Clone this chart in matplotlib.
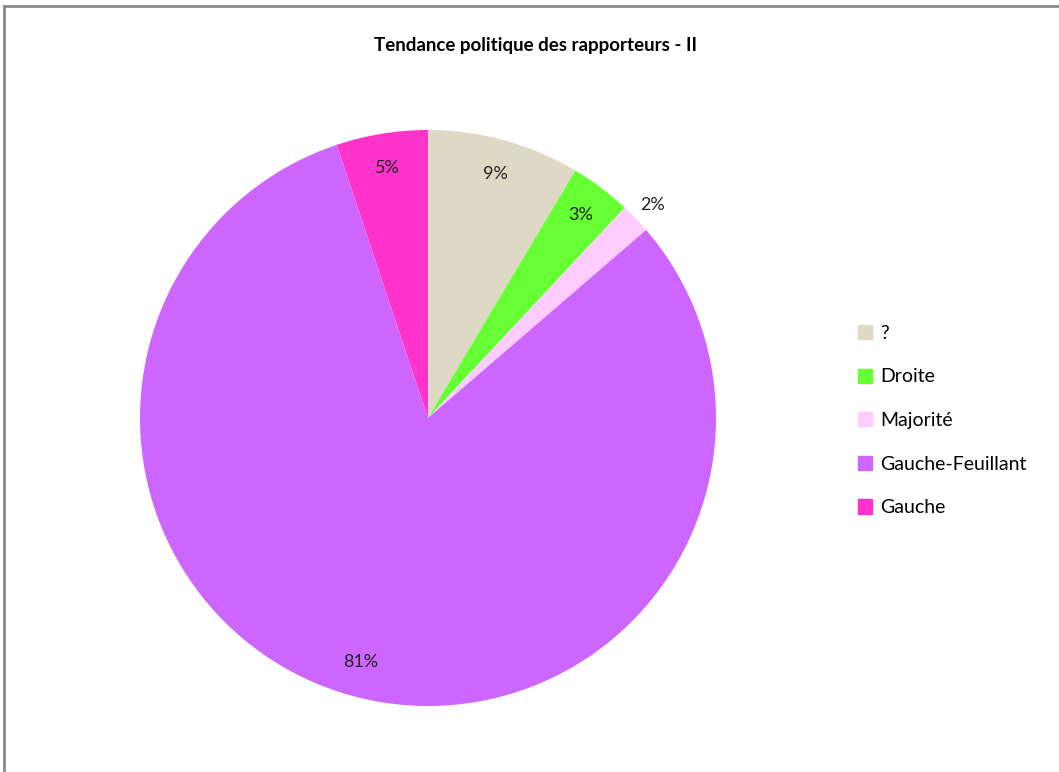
import matplotlib
matplotlib.use("Agg")
import matplotlib.pyplot as plt
from matplotlib.lines import Line2D

# --- data ---
labels = ['?', 'Droite', 'Majorité', 'Gauche-Feuillant', 'Gauche']
counts = [10, 4, 2, 95, 6]
colors = ['#DDD9C4', '#66FF33', '#FFCCFF', '#CC66FF', '#FF33CC']
title = 'Tendance politique des rapporteurs - II'

plt.rcParams['font.family'] = ['Lato', 'DejaVu Sans']

fig = plt.figure(figsize=(10.59, 7.72), dpi=100)
W, H = 1059, 772

# pie axes: center (428, 418), radius 288 px
cx, cy, r = 428, 418, 288
ax = fig.add_axes([(cx - r) / W, (H - cy - r) / H, 2 * r / W, 2 * r / H])

wedges, texts, autotexts = ax.pie(counts, colors=colors, startangle=90, counterclock=False,
                                  autopct='%1.0f%%', pctdistance=0.88,
                                  wedgeprops=dict(linewidth=0),
                                  textprops=dict(fontsize=13, color='#222222'))
ax.set_xlim(-1, 1)
ax.set_ylim(-1, 1)
ax.set_aspect('equal')

# small Majorité slice label sits outside the pie
autotexts[2].set_position((0.78, 0.74))

fig.text(535 / W, 1 - 45 / H, title, ha='center', va='center', fontsize=13.5, fontweight='bold')

# legend
handles = [plt.Rectangle((0, 0), 1, 1, color=c) for c in colors]
fig.legend(handles, labels, loc='upper left', bbox_to_anchor=(850 / W, 1 - 317 / H),
           frameon=False, fontsize=14, handlelength=0.75, handleheight=0.75,
           handletextpad=0.4, labelspacing=1.37, borderaxespad=0)

# chart border (top and left visible)
fig.add_artist(Line2D([4 / W, 1], [1 - 6 / H, 1 - 6 / H], color='#888888', lw=2, transform=fig.transFigure))
fig.add_artist(Line2D([4 / W, 4 / W], [0, 1 - 6 / H], color='#888888', lw=2, transform=fig.transFigure))

fig.savefig('out.png', dpi=100)
